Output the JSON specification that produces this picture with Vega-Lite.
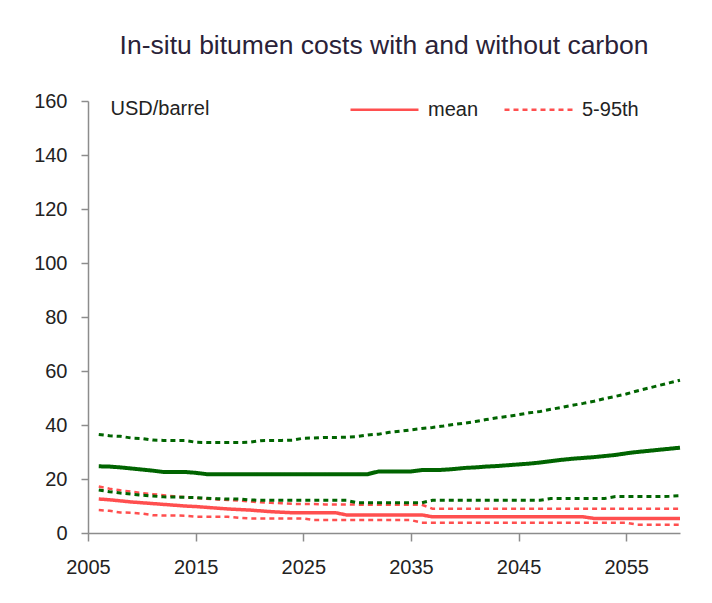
{
  "$schema": "https://vega.github.io/schema/vega-lite/v6.json",
  "width": 592,
  "height": 432,
  "autosize": {"type": "none"},
  "padding": {"left": 88, "top": 101, "right": 32, "bottom": 70},
  "background": "white",
  "title": {
    "text": "In-situ bitumen costs with and without carbon",
    "font": "Liberation Sans",
    "fontSize": 26.5,
    "fontWeight": "normal",
    "color": "#2a2238",
    "anchor": "middle",
    "offset": 15
  },
  "config": {
    "view": {"stroke": null},
    "font": "Liberation Sans",
    "axis": {
      "grid": false,
      "domainColor": "#8c8c8c",
      "domainWidth": 1.5,
      "tickColor": "#8c8c8c",
      "tickWidth": 1.5,
      "labelFont": "Liberation Sans",
      "labelFontSize": 20,
      "labelColor": "#222"
    },
    "legend": {
      "labelFont": "Liberation Sans",
      "labelFontSize": 20,
      "labelColor": "#222"
    }
  },
  "data": {
    "values": [
      {"year": 2006, "with_mean": 24.7, "with_p5": 15.9, "with_p95": 36.5, "without_mean": 12.6, "without_p5": 8.5, "without_p95": 17.2},
      {"year": 2007, "with_mean": 24.6, "with_p5": 15.3, "with_p95": 36.0, "without_mean": 12.3, "without_p5": 8.2, "without_p95": 16.4},
      {"year": 2008, "with_mean": 24.3, "with_p5": 14.8, "with_p95": 35.8, "without_mean": 11.9, "without_p5": 7.6, "without_p95": 15.8},
      {"year": 2009, "with_mean": 23.9, "with_p5": 14.4, "with_p95": 35.2, "without_mean": 11.5, "without_p5": 7.5, "without_p95": 15.3},
      {"year": 2010, "with_mean": 23.5, "with_p5": 14.0, "with_p95": 35.0, "without_mean": 11.2, "without_p5": 7.2, "without_p95": 14.8},
      {"year": 2011, "with_mean": 23.1, "with_p5": 13.7, "with_p95": 34.4, "without_mean": 10.9, "without_p5": 6.6, "without_p95": 14.4},
      {"year": 2012, "with_mean": 22.6, "with_p5": 13.4, "with_p95": 34.3, "without_mean": 10.6, "without_p5": 6.5, "without_p95": 14.0},
      {"year": 2013, "with_mean": 22.6, "with_p5": 13.3, "with_p95": 34.3, "without_mean": 10.3, "without_p5": 6.5, "without_p95": 13.6},
      {"year": 2014, "with_mean": 22.6, "with_p5": 13.2, "with_p95": 34.3, "without_mean": 10.0, "without_p5": 6.4, "without_p95": 13.3},
      {"year": 2015, "with_mean": 22.3, "with_p5": 13.1, "with_p95": 33.6, "without_mean": 9.8, "without_p5": 6.0, "without_p95": 13.0},
      {"year": 2016, "with_mean": 21.8, "with_p5": 12.9, "with_p95": 33.5, "without_mean": 9.5, "without_p5": 6.0, "without_p95": 12.7},
      {"year": 2017, "with_mean": 21.8, "with_p5": 12.7, "with_p95": 33.5, "without_mean": 9.2, "without_p5": 6.0, "without_p95": 12.4},
      {"year": 2018, "with_mean": 21.8, "with_p5": 12.6, "with_p95": 33.5, "without_mean": 8.9, "without_p5": 6.0, "without_p95": 12.2},
      {"year": 2019, "with_mean": 21.8, "with_p5": 12.6, "with_p95": 33.5, "without_mean": 8.7, "without_p5": 5.6, "without_p95": 12.0},
      {"year": 2020, "with_mean": 21.8, "with_p5": 12.3, "with_p95": 33.6, "without_mean": 8.5, "without_p5": 5.4, "without_p95": 11.7},
      {"year": 2021, "with_mean": 21.8, "with_p5": 12.1, "with_p95": 34.2, "without_mean": 8.2, "without_p5": 5.4, "without_p95": 11.4},
      {"year": 2022, "with_mean": 21.8, "with_p5": 12.1, "with_p95": 34.3, "without_mean": 7.9, "without_p5": 5.4, "without_p95": 11.2},
      {"year": 2023, "with_mean": 21.8, "with_p5": 12.1, "with_p95": 34.3, "without_mean": 7.7, "without_p5": 5.4, "without_p95": 11.0},
      {"year": 2024, "with_mean": 21.8, "with_p5": 12.1, "with_p95": 34.4, "without_mean": 7.5, "without_p5": 5.4, "without_p95": 10.8},
      {"year": 2025, "with_mean": 21.8, "with_p5": 12.1, "with_p95": 35.1, "without_mean": 7.5, "without_p5": 5.4, "without_p95": 10.7},
      {"year": 2026, "with_mean": 21.8, "with_p5": 12.1, "with_p95": 35.2, "without_mean": 7.5, "without_p5": 4.8, "without_p95": 10.7},
      {"year": 2027, "with_mean": 21.8, "with_p5": 12.1, "with_p95": 35.4, "without_mean": 7.5, "without_p5": 4.8, "without_p95": 10.6},
      {"year": 2028, "with_mean": 21.8, "with_p5": 12.1, "with_p95": 35.4, "without_mean": 7.5, "without_p5": 4.8, "without_p95": 10.6},
      {"year": 2029, "with_mean": 21.8, "with_p5": 12.1, "with_p95": 35.5, "without_mean": 6.7, "without_p5": 4.8, "without_p95": 10.6},
      {"year": 2030, "with_mean": 21.8, "with_p5": 11.2, "with_p95": 35.7, "without_mean": 6.7, "without_p5": 4.8, "without_p95": 10.5},
      {"year": 2031, "with_mean": 21.8, "with_p5": 11.2, "with_p95": 36.3, "without_mean": 6.7, "without_p5": 4.8, "without_p95": 10.5},
      {"year": 2032, "with_mean": 22.8, "with_p5": 11.2, "with_p95": 36.6, "without_mean": 6.7, "without_p5": 4.8, "without_p95": 10.5},
      {"year": 2033, "with_mean": 22.8, "with_p5": 11.2, "with_p95": 37.3, "without_mean": 6.7, "without_p5": 4.8, "without_p95": 10.5},
      {"year": 2034, "with_mean": 22.8, "with_p5": 11.2, "with_p95": 37.7, "without_mean": 6.7, "without_p5": 4.8, "without_p95": 10.5},
      {"year": 2035, "with_mean": 22.8, "with_p5": 11.2, "with_p95": 38.2, "without_mean": 6.7, "without_p5": 4.8, "without_p95": 10.5},
      {"year": 2036, "with_mean": 23.3, "with_p5": 11.2, "with_p95": 38.7, "without_mean": 6.7, "without_p5": 3.8, "without_p95": 10.5},
      {"year": 2037, "with_mean": 23.3, "with_p5": 12.1, "with_p95": 39.1, "without_mean": 6.0, "without_p5": 3.8, "without_p95": 9.0},
      {"year": 2038, "with_mean": 23.4, "with_p5": 12.1, "with_p95": 39.6, "without_mean": 6.0, "without_p5": 3.8, "without_p95": 9.0},
      {"year": 2039, "with_mean": 23.7, "with_p5": 12.1, "with_p95": 40.2, "without_mean": 6.0, "without_p5": 3.8, "without_p95": 9.0},
      {"year": 2040, "with_mean": 24.1, "with_p5": 12.1, "with_p95": 40.7, "without_mean": 6.0, "without_p5": 3.8, "without_p95": 9.0},
      {"year": 2041, "with_mean": 24.3, "with_p5": 12.1, "with_p95": 41.3, "without_mean": 6.0, "without_p5": 3.8, "without_p95": 9.0},
      {"year": 2042, "with_mean": 24.6, "with_p5": 12.1, "with_p95": 42.0, "without_mean": 6.0, "without_p5": 3.8, "without_p95": 9.0},
      {"year": 2043, "with_mean": 24.8, "with_p5": 12.1, "with_p95": 42.7, "without_mean": 6.0, "without_p5": 3.8, "without_p95": 9.0},
      {"year": 2044, "with_mean": 25.1, "with_p5": 12.1, "with_p95": 43.2, "without_mean": 6.0, "without_p5": 3.8, "without_p95": 9.0},
      {"year": 2045, "with_mean": 25.4, "with_p5": 12.1, "with_p95": 43.8, "without_mean": 6.0, "without_p5": 3.8, "without_p95": 9.0},
      {"year": 2046, "with_mean": 25.7, "with_p5": 12.1, "with_p95": 44.5, "without_mean": 6.0, "without_p5": 3.8, "without_p95": 9.0},
      {"year": 2047, "with_mean": 26.1, "with_p5": 12.1, "with_p95": 45.0, "without_mean": 6.0, "without_p5": 3.8, "without_p95": 9.0},
      {"year": 2048, "with_mean": 26.6, "with_p5": 12.8, "with_p95": 45.8, "without_mean": 6.0, "without_p5": 3.8, "without_p95": 9.0},
      {"year": 2049, "with_mean": 27.1, "with_p5": 12.8, "with_p95": 46.5, "without_mean": 6.0, "without_p5": 3.8, "without_p95": 9.0},
      {"year": 2050, "with_mean": 27.5, "with_p5": 12.8, "with_p95": 47.3, "without_mean": 6.0, "without_p5": 3.8, "without_p95": 9.0},
      {"year": 2051, "with_mean": 27.8, "with_p5": 12.8, "with_p95": 48.0, "without_mean": 6.0, "without_p5": 3.8, "without_p95": 9.0},
      {"year": 2052, "with_mean": 28.1, "with_p5": 12.8, "with_p95": 48.8, "without_mean": 5.4, "without_p5": 3.8, "without_p95": 9.0},
      {"year": 2053, "with_mean": 28.5, "with_p5": 12.8, "with_p95": 49.8, "without_mean": 5.4, "without_p5": 3.8, "without_p95": 9.0},
      {"year": 2054, "with_mean": 28.9, "with_p5": 13.5, "with_p95": 50.6, "without_mean": 5.4, "without_p5": 3.8, "without_p95": 9.0},
      {"year": 2055, "with_mean": 29.5, "with_p5": 13.5, "with_p95": 51.5, "without_mean": 5.4, "without_p5": 3.8, "without_p95": 9.0},
      {"year": 2056, "with_mean": 30.0, "with_p5": 13.5, "with_p95": 52.6, "without_mean": 5.4, "without_p5": 3.1, "without_p95": 9.0},
      {"year": 2057, "with_mean": 30.4, "with_p5": 13.5, "with_p95": 53.6, "without_mean": 5.4, "without_p5": 3.1, "without_p95": 9.0},
      {"year": 2058, "with_mean": 30.8, "with_p5": 13.5, "with_p95": 54.6, "without_mean": 5.4, "without_p5": 3.1, "without_p95": 9.0},
      {"year": 2059, "with_mean": 31.2, "with_p5": 13.6, "with_p95": 55.6, "without_mean": 5.4, "without_p5": 3.1, "without_p95": 9.0},
      {"year": 2060, "with_mean": 31.6, "with_p5": 13.8, "with_p95": 56.6, "without_mean": 5.4, "without_p5": 3.1, "without_p95": 9.0}
    ]
  },
  "encoding": {
    "x": {
      "field": "year",
      "type": "quantitative",
      "scale": {"domain": [2005, 2060], "nice": false, "zero": false},
      "axis": {
        "values": [2005, 2015, 2025, 2035, 2045, 2055],
        "format": "d",
        "title": null,
        "tickSize": 8,
        "labelPadding": 16,
        "labelFlush": false
      }
    },
    "color": {
      "datum": "without",
      "scale": {"domain": ["with", "without"], "range": ["#006400", "#ff4f4f"]},
      "legend": null
    }
  },
  "layer": [
    {
      "mark": {"type": "line", "strokeWidth": 3.5},
      "encoding": {
        "y": {
          "field": "without_mean",
          "type": "quantitative",
          "scale": {"domain": [0, 160], "nice": false},
          "axis": {
            "values": [0, 20, 40, 60, 80, 100, 120, 140, 160],
            "tickSize": 7,
            "labelPadding": 14,
            "title": "USD/barrel",
            "titleAngle": 0,
            "titleAlign": "left",
            "titleBaseline": "middle",
            "titleX": 22,
            "titleY": 7,
            "titleFont": "Liberation Sans",
            "titleFontSize": 20,
            "titleFontWeight": "normal",
            "titleColor": "#222"
          }
        },
        "color": {"datum": "without"},
        "strokeDash": {
          "datum": "mean",
          "scale": {"domain": ["mean", "5-95th"], "range": [[1, 0], [5, 4]]},
          "legend": {
            "orient": "none",
            "direction": "horizontal",
            "legendX": 261,
            "legendY": -27,
            "title": null,
            "symbolType": "stroke",
            "symbolSize": 4624,
            "symbolStrokeColor": "#ff5656",
            "symbolStrokeWidth": 2.5,
            "labelOffset": 8,
            "columnPadding": 20
          }
        }
      }
    },
    {
      "mark": {"type": "line", "strokeWidth": 2.5, "strokeCap": "butt"},
      "encoding": {
        "y": {"field": "without_p95", "type": "quantitative"},
        "color": {"datum": "without"},
        "strokeDash": {"datum": "5-95th"}
      }
    },
    {
      "mark": {"type": "line", "strokeWidth": 2.5, "strokeCap": "butt"},
      "encoding": {
        "y": {"field": "without_p5", "type": "quantitative"},
        "color": {"datum": "without"},
        "strokeDash": {"datum": "5-95th"}
      }
    },
    {
      "mark": {"type": "line", "strokeWidth": 3, "strokeCap": "butt"},
      "encoding": {
        "y": {"field": "with_p95", "type": "quantitative"},
        "color": {"datum": "with"},
        "strokeDash": {"datum": "5-95th"}
      }
    },
    {
      "mark": {"type": "line", "strokeWidth": 3, "strokeCap": "butt"},
      "encoding": {
        "y": {"field": "with_p5", "type": "quantitative"},
        "color": {"datum": "with"},
        "strokeDash": {"datum": "5-95th"}
      }
    },
    {
      "mark": {"type": "line", "strokeWidth": 4},
      "encoding": {
        "y": {"field": "with_mean", "type": "quantitative"},
        "color": {"datum": "with"},
        "strokeDash": {"datum": "mean"}
      }
    }
  ]
}
